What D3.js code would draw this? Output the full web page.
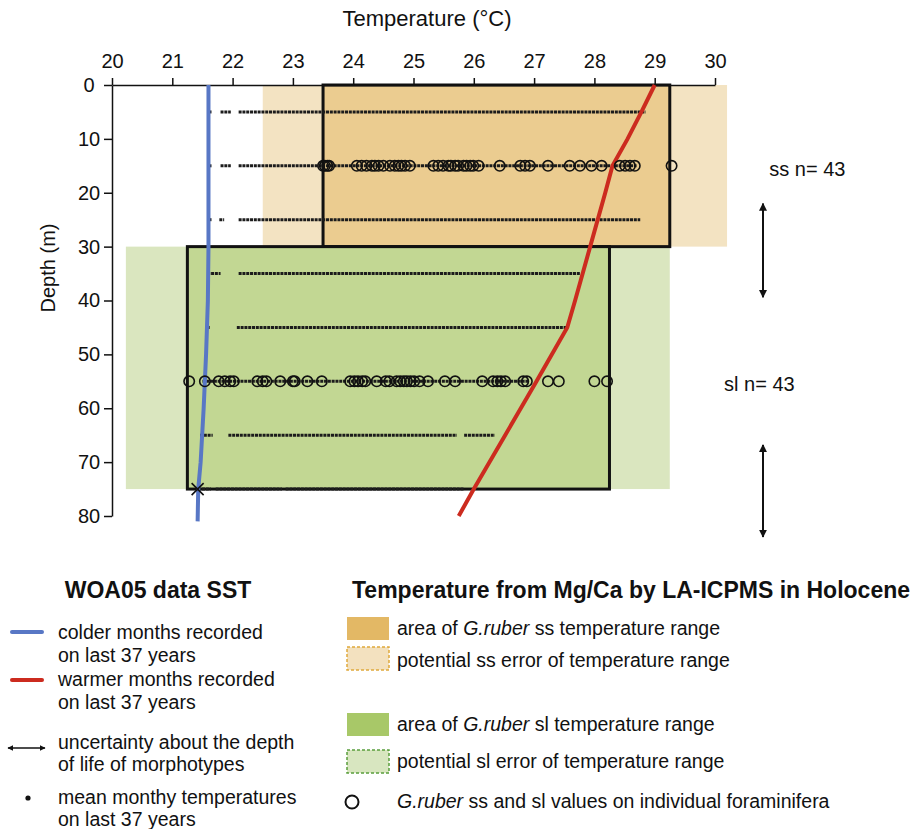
<!DOCTYPE html>
<html>
<head>
<meta charset="utf-8">
<script src="https://cdn.jsdelivr.net/npm/d3@7"></script>
<style>
  body { margin: 0; background: #fff; }
  svg text { font-family: "Liberation Sans", Arial, sans-serif; fill: #111; }
</style>
</head>
<body>
<svg id="chart" width="912" height="829"></svg>
<script>
// ---- data ----
var tempTicks = [20, 21, 22, 23, 24, 25, 26, 27, 28, 29, 30];
var depthTicks = [0, 10, 20, 30, 40, 50, 60, 70, 80];

// WOA05 profiles (temperature, depth)
var coldDepth = [0, 10, 20, 30, 40, 50, 60, 70, 75, 81];
var coldTemp  = [21.6, 21.6, 21.6, 21.6, 21.59, 21.56, 21.52, 21.47, 21.43, 21.42];
var warmDepth = [0, 5, 10, 15, 20, 30, 40, 45, 55, 65, 75, 80];
var warmTemp  = [29.0, 28.78, 28.55, 28.3, 28.18, 27.93, 27.68, 27.55, 27.04, 26.52, 26.0, 25.75];

// ranges [tMin, tMax, depthTop, depthBottom]
var ssError = [22.5, 30.2, 0, 30];
var ssArea  = [23.5, 29.25, 0, 30];
var slError = [20.23, 29.25, 30, 75];
var slArea  = [21.25, 28.25, 30, 75];

// mean monthly temperature rows (depth + runs of dense dots)
var rowDepths = [5, 15, 25, 35, 45, 55, 65, 75];
var rowRuns = [
  [[21.6, 21.66], [21.8, 21.97], [22.1, 28.85]],
  [[21.6, 21.66], [21.8, 21.97], [22.1, 28.7]],
  [[21.6, 21.66], [21.78, 21.86], [22.1, 28.76]],
  [[21.58, 21.8], [22.1, 27.76]],
  [[21.57, 21.63], [22.07, 27.56]],
  [[21.5, 26.9]],
  [[21.46, 21.67], [21.93, 25.72], [25.84, 26.35]],
  [[21.43, 21.64], [21.72, 22.82], [22.88, 25.84]]
];

// individual foraminifera
var ssDepth = 15;
var ssValues = [23.5, 23.53, 23.57, 23.6, 24.06, 24.14, 24.22, 24.31, 24.36, 24.42, 24.5,
  24.61, 24.69, 24.75, 24.8, 24.86, 24.94, 25.33, 25.41, 25.49, 25.58, 25.62,
  25.69, 25.74, 25.83, 25.88, 25.94, 25.99, 26.08, 26.43, 26.77, 26.85, 26.93,
  27.23, 27.59, 27.76, 27.95, 28.12, 28.42, 28.51, 28.59, 28.67, 29.28];
var slDepth = 55;
var slValues = [21.28, 21.54, 21.77, 21.87, 21.96, 22.02, 22.41, 22.5, 22.56, 22.79,
  23.0, 23.03, 23.24, 23.48, 23.95, 24.02, 24.08, 24.15, 24.2, 24.39, 24.54, 24.6,
  24.72, 24.78, 24.84, 24.89, 24.95, 25.01, 25.1, 25.24, 25.52, 25.69, 26.14, 26.32,
  26.39, 26.45, 26.52, 26.82, 26.88, 27.23, 27.41, 28.0, 28.21];

var crossPoint = [21.42, 75];
var nLabels = [["ss n= 43", 30.9, 15.5], ["sl n= 43", 30.15, 55.5]];
var depthArrows = [[22, 39.4], [66.8, 83.9]];

// ---- scales ----
var svg = d3.select('#chart');
var x = d3.scaleLinear().domain([20, 30]).range([112, 715]);
var y = d3.scaleLinear().domain([0, 80]).range([85, 516]);

var defs = svg.append('defs');
defs.append('marker')
    .attr('id', 'arrowhead')
    .attr('viewBox', '0 0 10 10')
    .attr('refX', 9).attr('refY', 5)
    .attr('markerWidth', 4).attr('markerHeight', 4)
    .attr('orient', 'auto-start-reverse')
  .append('path')
    .attr('d', 'M0,0 L10,5 L0,10 z')
    .attr('fill', '#111');

function drawRect(r, fill, stroke) {
    var rect = svg.append('rect')
        .attr('x', x(r[0]))
        .attr('y', y(r[2]))
        .attr('width', x(r[1]) - x(r[0]))
        .attr('height', y(r[3]) - y(r[2]))
        .attr('fill', fill);
    if (stroke) {
        rect.attr('stroke', stroke).attr('stroke-width', 3);
    }
    return rect;
}

// light error areas, then the measured ranges
drawRect(ssError, '#f3e3c2');
drawRect(slError, '#dae6bf');
drawRect(ssArea, '#ebcc90', '#111');
drawRect(slArea, '#c2d793', '#111');

// axes
var xAxis = d3.axisTop(x).tickValues(tempTicks).tickSize(7).tickSizeOuter(0).tickPadding(10);
var gx = svg.append('g')
    .attr('transform', 'translate(0,' + y(0) + ')')
    .call(xAxis);
gx.selectAll('text').style('font-size', '20px');

var yAxis = d3.axisLeft(y).tickValues(depthTicks).tickSize(8).tickSizeOuter(0).tickPadding(4);
var gy = svg.append('g')
    .attr('transform', 'translate(' + x(20) + ',0)')
    .call(yAxis);
gy.selectAll('text')
    .style('font-size', '20px')
    .attr('text-anchor', 'middle')
    .attr('x', -23);

svg.selectAll('.domain, .tick line').attr('stroke', '#111').attr('stroke-width', 1.5);

svg.append('text')
    .attr('x', 427).attr('y', 26)
    .attr('text-anchor', 'middle')
    .style('font-size', '22px')
    .text('Temperature (°C)');

svg.append('text')
    .attr('transform', 'translate(55,268) rotate(-90)')
    .attr('text-anchor', 'middle')
    .style('font-size', '20px')
    .text('Depth (m)');

// rows of monthly means (dense dots)
rowDepths.forEach(function(d, i) {
    svg.append('g').selectAll('line')
        .data(rowRuns[i])
        .enter()
        .append('line')
            .attr('x1', function(r) { return x(r[0]); })
            .attr('x2', function(r) { return x(r[1]); })
            .attr('y1', y(d))
            .attr('y2', y(d))
            .attr('stroke', '#1c1c1c')
            .attr('stroke-width', 3)
            .attr('stroke-dasharray', '3 0.8');
});

// WOA05 lines
var line = d3.line()
    .x(function(d) { return x(d[0]); })
    .y(function(d) { return y(d[1]); });

svg.append('path')
    .datum(d3.zip(coldTemp, coldDepth))
    .attr('d', line)
    .attr('fill', 'none')
    .attr('stroke', '#5877c5')
    .attr('stroke-width', 4);

svg.append('path')
    .datum(d3.zip(warmTemp, warmDepth))
    .attr('d', line)
    .attr('fill', 'none')
    .attr('stroke', '#cc2b1f')
    .attr('stroke-width', 4);

// cross at the base of the cold profile
var cx = x(crossPoint[0]), cy = y(crossPoint[1]);
svg.append('path')
    .attr('d', 'M' + (cx - 6) + ',' + (cy - 6) + 'L' + (cx + 6) + ',' + (cy + 6) +
               'M' + (cx - 6) + ',' + (cy + 6) + 'L' + (cx + 6) + ',' + (cy - 6))
    .attr('stroke', '#111')
    .attr('stroke-width', 1.6);

// individual foraminifera
function drawCircles(vals, depth) {
    svg.append('g').selectAll('circle')
        .data(vals)
        .enter()
        .append('circle')
            .attr('cx', function(d) { return x(d); })
            .attr('cy', y(depth))
            .attr('r', 5.2)
            .attr('fill', 'none')
            .attr('stroke', '#111')
            .attr('stroke-width', 1.6);
}
drawCircles(ssValues, ssDepth);
drawCircles(slValues, slDepth);

// n labels and depth uncertainty arrows
nLabels.forEach(function(l) {
    svg.append('text')
        .attr('x', x(l[1])).attr('y', y(l[2]))
        .attr('dy', '0.35em')
        .style('font-size', '20px')
        .text(l[0]);
});
depthArrows.forEach(function(a) {
    svg.append('line')
        .attr('x1', 763).attr('x2', 763)
        .attr('y1', y(a[0])).attr('y2', y(a[1]))
        .attr('stroke', '#111')
        .attr('stroke-width', 2)
        .attr('marker-start', 'url(#arrowhead)')
        .attr('marker-end', 'url(#arrowhead)');
});

// ---- legends ----
var fs = '19.5px';
svg.append('text')
    .attr('x', 158).attr('y', 598)
    .attr('text-anchor', 'middle')
    .style('font-size', '23px').style('font-weight', 'bold')
    .text('WOA05 data SST');

function legText(xp, yp, str) {
    return svg.append('text').attr('x', xp).attr('y', yp).style('font-size', fs).text(str);
}

svg.append('line').attr('x1', 12).attr('x2', 42).attr('y1', 632).attr('y2', 632)
    .attr('stroke', '#5877c5').attr('stroke-width', 4).attr('stroke-linecap', 'round');
legText(58, 639, 'colder months recorded');
legText(58, 662, 'on last 37 years');

svg.append('line').attr('x1', 12).attr('x2', 42).attr('y1', 680).attr('y2', 680)
    .attr('stroke', '#cc2b1f').attr('stroke-width', 4).attr('stroke-linecap', 'round');
legText(58, 686, 'warmer months recorded');
legText(58, 709, 'on last 37 years');

svg.append('line').attr('x1', 8).attr('x2', 45).attr('y1', 748).attr('y2', 748)
    .attr('stroke', '#111').attr('stroke-width', 1.5)
    .attr('marker-start', 'url(#arrowhead)')
    .attr('marker-end', 'url(#arrowhead)');
legText(58, 749, 'uncertainty about the depth');
legText(58, 771, 'of life of morphotypes');

svg.append('circle').attr('cx', 28).attr('cy', 798).attr('r', 2.6).attr('fill', '#111');
legText(58, 804, 'mean monthy temperatures');
legText(58, 826, 'on last 37 years');

svg.append('text')
    .attr('x', 352).attr('y', 598)
    .style('font-size', '23px').style('font-weight', 'bold')
    .text('Temperature from Mg/Ca by LA-ICPMS in Holocene');

var sw = [
    {y: 617, fill: '#e3b865', stroke: null},
    {y: 647, fill: '#f3e1bf', stroke: '#dfa93c'},
    {y: 713, fill: '#a8c868', stroke: null},
    {y: 750, fill: '#d8e6c0', stroke: '#5a9f3c'}
];
sw.forEach(function(s) {
    var r = svg.append('rect')
        .attr('x', 347).attr('y', s.y)
        .attr('width', 42).attr('height', 23)
        .attr('fill', s.fill);
    if (s.stroke) {
        r.attr('stroke', s.stroke).attr('stroke-width', 1.5).attr('stroke-dasharray', '3 2');
    }
});

function italicLine(yp, pre, ital, post) {
    var t = svg.append('text').attr('x', 397).attr('y', yp).style('font-size', fs);
    t.append('tspan').text(pre);
    t.append('tspan').style('font-style', 'italic').text(ital);
    t.append('tspan').text(post);
}
italicLine(635, 'area of ', 'G.ruber', ' ss temperature range');
legText(397, 667, 'potential ss error of temperature range');
italicLine(731, 'area of ', 'G.ruber', ' sl temperature range');
legText(397, 768, 'potential sl error of temperature range');

svg.append('circle').attr('cx', 352).attr('cy', 802).attr('r', 6.5)
    .attr('fill', 'none').attr('stroke', '#111').attr('stroke-width', 2);
italicLine(808, '', 'G.ruber', ' ss and sl values on individual foraminifera');
</script>
</body>
</html>
